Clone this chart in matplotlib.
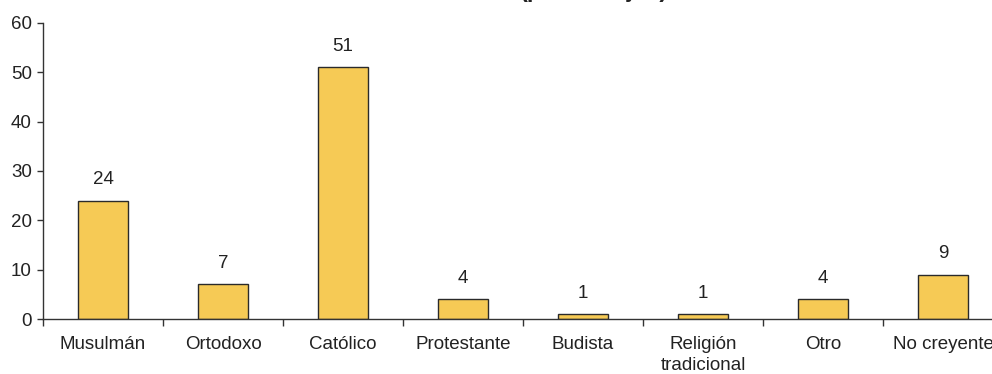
import matplotlib
matplotlib.use("Agg")
import matplotlib.pyplot as plt

plt.rcParams['font.family'] = ['Liberation Sans', 'DejaVu Sans']

religiones = ["Musulmán", "Ortodoxo", "Católico", "Protestante", "Budista",
              "Religión\ntradicional", "Otro", "No creyente"]
porcentajes = [24, 7, 51, 4, 1, 1, 4, 9]

fig = plt.figure(figsize=(9.92, 3.74), dpi=100)
ax = fig.add_axes([43 / 992, 55 / 374, 960 / 992, 296 / 374])

pos = range(len(religiones))
barras = ax.bar(pos, porcentajes, width=0.41, color="#F6CA55",
                edgecolor="#2a2a2a", linewidth=1.0, zorder=2)

for b, v in zip(barras, porcentajes):
    ax.annotate(str(v), (b.get_x() + b.get_width() / 2, v),
                xytext=(0, 9), textcoords="offset points",
                ha="center", va="bottom", fontsize=13.5, color="#222222")

ax.set_xlim(-0.5, len(religiones) - 0.5)
ax.set_ylim(0, 60)
ax.set_yticks(range(0, 61, 10))

# separadores entre categorías en el eje x
ax.set_xticks([i - 0.5 for i in range(len(religiones) + 1)])
ax.set_xticklabels([])
ax.set_xticks(list(pos), minor=True)
ax.set_xticklabels(religiones, minor=True, fontsize=13.5, color="#222222",
                   linespacing=1.35)
ax.tick_params(axis="x", which="minor", length=0, pad=12)
ax.tick_params(axis="x", which="major", length=5, width=1, color="#333333",
               direction="out")
ax.tick_params(axis="y", length=4, width=1, color="#333333", labelsize=13.5,
               labelcolor="#222222", pad=4)

for s in ["top", "right"]:
    ax.spines[s].set_visible(False)
for s in ["left", "bottom"]:
    ax.spines[s].set_color("#333333")
    ax.spines[s].set_linewidth(1)

fig.text(594 / 992, 1.008, "(porcentajes)", ha="center", va="baseline",
         fontsize=17, fontweight="bold", color="#222222")

fig.savefig("out.png", dpi=100)
